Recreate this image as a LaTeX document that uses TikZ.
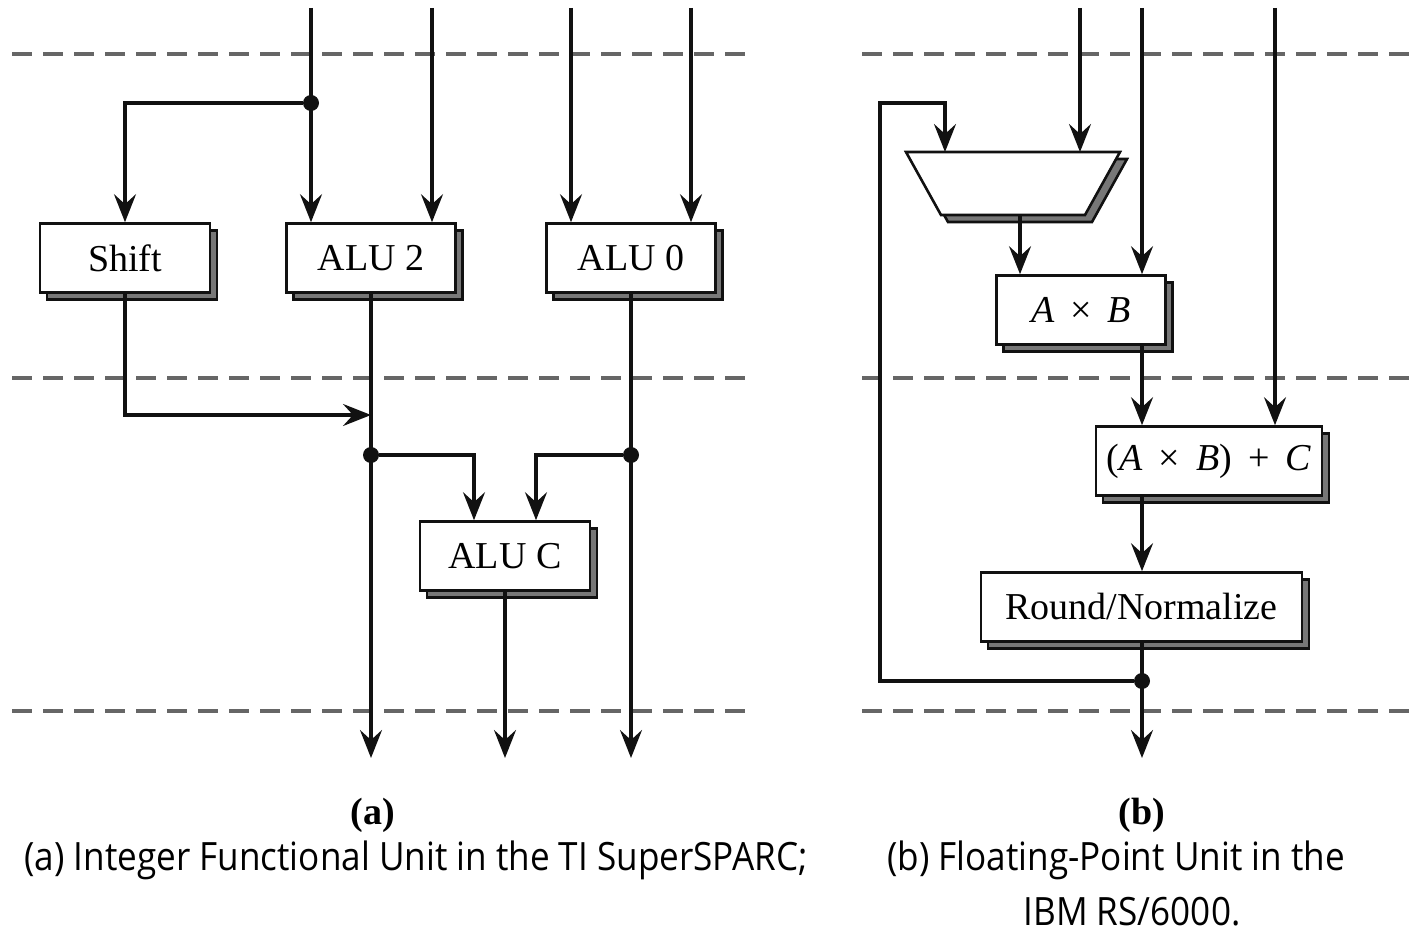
\documentclass[tikz,border=0pt]{standalone}
\usepackage{fontspec}
\setmainfont{Liberation Serif}
\newfontfamily\capfont[FakeStretch=0.9]{Open Sans}
\usetikzlibrary{arrows.meta, shadows}
\definecolor{wire}  {HTML}{111111}
\definecolor{stage} {HTML}{666666}
\definecolor{shade} {HTML}{777777}
\newcommand{\opsp}[1]{\hspace{0.42em}#1\hspace{0.42em}}

\tikzset{
  unit/.style={draw=wire, fill=white, line width=1.3pt, inner sep=0pt,
    minimum height=34.5pt, font=\fontsize{19}{23}\selectfont,
    copy shadow={shadow xshift=3.5pt, shadow yshift=-3.5pt,
      fill=shade, draw=wire, line width=1.3pt}},
  sig/.style={draw=wire, line width=1.6pt},
  arr/.style={sig, -{Stealth[length=14pt, width=11pt, inset=5pt]}},
  latch/.style={draw=stage, line width=2pt, dash pattern=on 10pt off 5.5pt},
  tap/.style={circle, fill=wire, inner sep=0pt, minimum size=8pt},
  sub/.style={font=\bfseries\fontsize{19}{23}\selectfont},
  capline/.style={font=\capfont\fontsize{19.5}{24}\selectfont}
}

\begin{document}
\begin{tikzpicture}[x=0.5pt, y=-0.5pt]
  \useasboundingbox (0,0) rectangle (1414,935);

  % pipeline stage boundaries
  \foreach \y in {54, 378, 711} {
    \draw[latch] (12,\y) -- (745,\y);
    \draw[latch] (862,\y) -- (1414,\y);}

  % (a) integer unit
  \node[unit, minimum width=85pt]   (shift) at (125,258) {Shift};
  \node[unit, minimum width=84.5pt] (alu2)  at (371,258) {ALU 2};
  \node[unit, minimum width=84.5pt] (alu0)  at (631,258) {ALU 0};
  \node[unit, minimum width=85pt]   (aluc)  at (505,556) {ALU C};

  \foreach \n/\x/\dst in {ina/311/alu2, inb/432/alu2, inc/571/alu0, ind/691/alu0}
    {\coordinate (\n) at (\x,8);
     \draw[arr] (\n) -- (\n |- \dst.north);}

  \node[tap] (ja) at (311,103) {};
  \draw[arr] (ja) -| (shift.north);
  \coordinate (mrg) at (371,415);
  \draw[arr] (shift.south) |- (mrg);

  \coordinate (outa) at (371,758);
  \coordinate (outb) at (505,758);
  \coordinate (outc) at (631,758);
  \draw[arr] (alu2.south) -- (outa);
  \draw[arr] (aluc.south) -- (outb);
  \draw[arr] (alu0.south) -- (outc);

  \node[tap] (jb) at (371,455) {};
  \node[tap] (jc) at (631,455) {};
  \draw[arr] (jb) -| ([xshift=-15.5pt]aluc.north);
  \draw[arr] (jc) -| ([xshift=15.5pt]aluc.north);

  % (b) floating-point unit
  % operand select, drawn by hand with its shadow
  \foreach \d/\col in {7/shade, 0/white}
    \filldraw[fill=\col, draw=wire, line width=1.3pt, shift={(\d,\d)}]
      (906,152) -- (1120,152) -- (1085,215) -- (941,215) -- cycle;
  \coordinate (muxtop) at (1013,152);
  \coordinate (muxout) at (1020,215);

  \node[unit, minimum width=84.5pt] (axb)  at (1081,310)
    {\textit{A}\opsp{×}\textit{B}};
  \node[unit, minimum width=113pt]  (madd) at (1209,461)
    {(\textit{A}\opsp{×}\textit{B})\opsp{+}\textit{C}};
  \node[unit, minimum width=160.5pt] (norm) at (1141.5,607) {Round/Normalize};

  \coordinate (ine) at (1080,8);
  \coordinate (inf) at (1142,8);
  \coordinate (ing) at (1275,8);
  \draw[arr] (ine) -- (ine |- muxtop);
  \draw[arr] (inf) -- (inf |- axb.north);
  \draw[arr] (ing) -- (ing |- madd.north);

  \draw[arr] (muxout) -- (muxout |- axb.north);
  \draw[arr] (axb.south -| inf) -- (inf |- madd.north);
  \draw[arr] (madd.south -| inf) -- (inf |- norm.north);

  \coordinate (outd) at (1142,758);
  \draw[arr] (norm.south -| inf) -- (outd);
  \node[tap] (jd) at (1142,681) {};
  \coordinate (fbl) at (880,103);
  \coordinate (fbi) at (945,103);
  \draw[arr] (jd) -| (fbl) -- (fbi) -- (fbi |- muxtop);

  % sub-figure labels and captions
  \node[sub] (laba) at (373,815)  {(a)};
  \node[sub] (labb) at (1142,815) {(b)};
  \node[capline] (capa) at (416,860)  {(a) Integer Functional Unit in the TI SuperSPARC;};
  \node[capline] (capb) at (1116,860) {(b) Floating-Point Unit in the};
  \node[capline] (capc) at (1132,912) {IBM RS/6000.};
\end{tikzpicture}
\end{document}
